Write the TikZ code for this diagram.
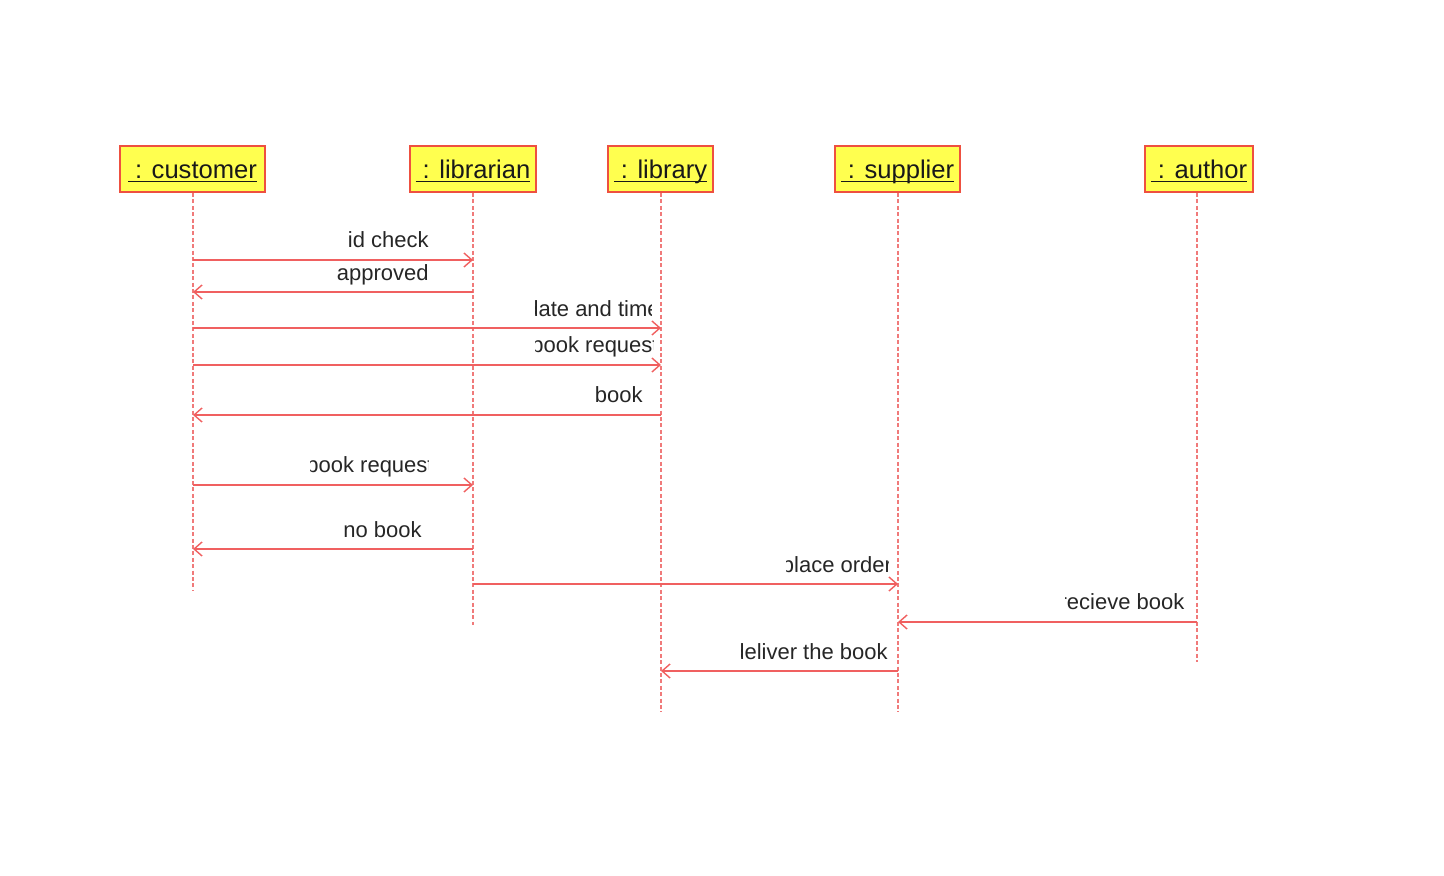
\documentclass[tikz,border=0pt]{standalone}
\usepackage{fontspec}
\setmainfont{Liberation Sans}
\usetikzlibrary{arrows.meta}
\definecolor{boxfill}{HTML}{FFFF4F}
\definecolor{boxline}{HTML}{EE5040}
\definecolor{lifecol}{HTML}{F07A7A}
\definecolor{msgcol}{HTML}{F06060}
\newcommand{\objname}[1]{\underline{\smash{~: #1}}}
\begin{document}
\begin{tikzpicture}[x=0.5pt,y=-0.5pt,
  obj/.style={draw=boxline,line width=1pt,fill=boxfill,minimum height=23pt,inner sep=0pt,
    text height=13pt,text depth=3pt,
    font=\fontsize{12.8}{15}\selectfont,text=black!90},
  life/.style={draw=lifecol,line width=0.7pt,dash pattern=on 2pt off 1.2pt},
  msg/.style={draw=msgcol,line width=0.7pt,-{Straight Barb[length=4pt,width=7pt]}},
  lbl/.style={inner sep=0pt,font=\fontsize{11}{13}\selectfont,text=black!85}]
\useasboundingbox (0,0) rectangle (1444,876);
% objects
\node[obj,minimum width=72.5pt] (cu) at (192.5,169) {\objname{customer}};
\node[obj,minimum width=63pt] (li) at (473,169) {\objname{librarian}};
\node[obj,minimum width=52.5pt] (lb) at (660.5,169) {\objname{library}};
\node[obj,minimum width=62.5pt] (su) at (897.5,169) {\objname{supplier}};
\node[obj,minimum width=54pt] (au) at (1199,169) {\objname{author}};
% lifelines
\coordinate (cuend) at (193,590);
\coordinate (liend) at (473,625);
\coordinate (lbend) at (661,712);
\coordinate (suend) at (898,712);
\coordinate (auend) at (1197,662);
\draw[life] (cu.south -| cuend) -- (cuend);
\draw[life] (li.south -| liend) -- (liend);
\draw[life] (lb.south -| lbend) -- (lbend);
\draw[life] (su.south -| suend) -- (suend);
\draw[life] (au.south -| auend) -- (auend);
% messages
\draw[msg] (cuend |- 0,260) -- (liend |- 0,260);
\draw[msg] (liend |- 0,292) -- (cuend |- 0,292);
\draw[msg] (cuend |- 0,328) -- (lbend |- 0,328);
\draw[msg] (cuend |- 0,365) -- (lbend |- 0,365);
\draw[msg] (lbend |- 0,415) -- (cuend |- 0,415);
\draw[msg] (cuend |- 0,485) -- (liend |- 0,485);
\draw[msg] (liend |- 0,549) -- (cuend |- 0,549);
\draw[msg] (liend |- 0,584) -- (suend |- 0,584);
\draw[msg] (auend |- 0,622) -- (suend |- 0,622);
\draw[msg] (suend |- 0,671) -- (lbend |- 0,671);
% labels
\node[lbl,anchor=base east] (m1) at (429,248) {id check};
\node[lbl,anchor=base east] (m2) at (429,281) {approved};
\begin{scope}\clip (535,296) rectangle (651,324);
\node[lbl,anchor=base] (m3) at (593,317) {date and time};\end{scope}
\begin{scope}\clip (535,332) rectangle (653,362);
\node[lbl,anchor=base] (m4) at (595,353) {book request};\end{scope}
\node[lbl,anchor=base east] (m5) at (643,403) {book};
\begin{scope}\clip (310,452) rectangle (428,482);
\node[lbl,anchor=base] (m6) at (370,473) {book request};\end{scope}
\node[lbl,anchor=base east] (m7) at (422,537) {no book};
\begin{scope}\clip (786,551) rectangle (888,580);
\node[lbl,anchor=base] (m8) at (837,572) {place order};\end{scope}
\begin{scope}\clip (1065,588) rectangle (1190,617);
\node[lbl,anchor=base] (m9) at (1122,609) {recieve book};\end{scope}
\begin{scope}\clip (741,638) rectangle (889,667);
\node[lbl,anchor=base] (m10) at (810,659) {deliver the book};\end{scope}
\end{tikzpicture}
\end{document}
